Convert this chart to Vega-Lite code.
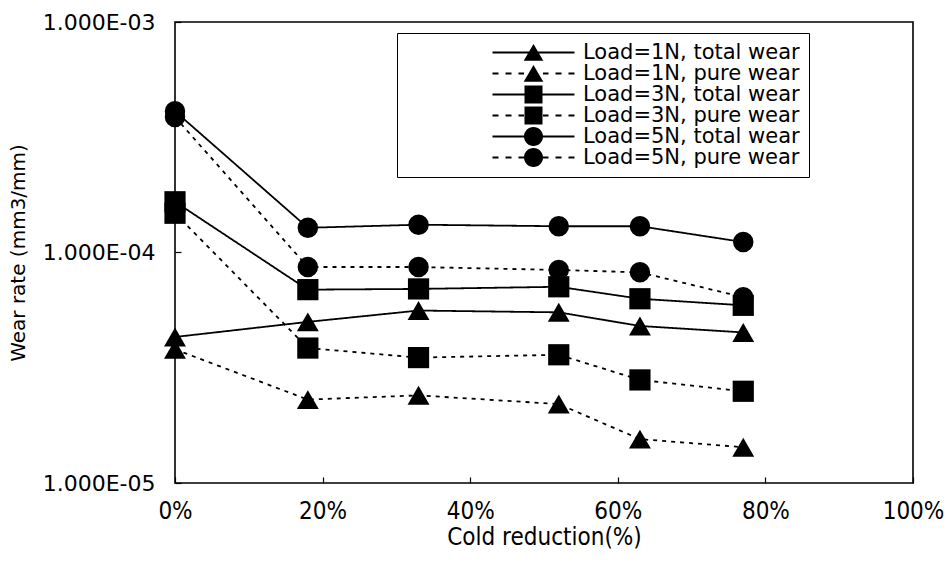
{
  "$schema": "https://vega.github.io/schema/vega-lite/v6.json",
  "width": 738,
  "height": 461,
  "autosize": {"type": "none"},
  "padding": {"left": 175, "top": 22, "right": 36, "bottom": 79},
  "background": "white",
  "config": {
    "view": {"stroke": "black", "strokeWidth": 1.6},
    "axis": {"grid": false, "domain": false, "tickColor": "black", "labelColor": "black", "titleColor": "black", "titleFontWeight": "normal"}
  },
  "data": {
    "values": [
      {"cr": 0.00, "load": "1N", "wear": "total", "series": "Load=1N, total wear", "rate": 4.3e-5},
      {"cr": 0.18, "load": "1N", "wear": "total", "series": "Load=1N, total wear", "rate": 5.0e-5},
      {"cr": 0.33, "load": "1N", "wear": "total", "series": "Load=1N, total wear", "rate": 5.6e-5},
      {"cr": 0.52, "load": "1N", "wear": "total", "series": "Load=1N, total wear", "rate": 5.5e-5},
      {"cr": 0.63, "load": "1N", "wear": "total", "series": "Load=1N, total wear", "rate": 4.8e-5},
      {"cr": 0.77, "load": "1N", "wear": "total", "series": "Load=1N, total wear", "rate": 4.5e-5},
      {"cr": 0.00, "load": "1N", "wear": "pure", "series": "Load=1N, pure wear", "rate": 3.8e-5},
      {"cr": 0.18, "load": "1N", "wear": "pure", "series": "Load=1N, pure wear", "rate": 2.3e-5},
      {"cr": 0.33, "load": "1N", "wear": "pure", "series": "Load=1N, pure wear", "rate": 2.4e-5},
      {"cr": 0.52, "load": "1N", "wear": "pure", "series": "Load=1N, pure wear", "rate": 2.2e-5},
      {"cr": 0.63, "load": "1N", "wear": "pure", "series": "Load=1N, pure wear", "rate": 1.55e-5},
      {"cr": 0.77, "load": "1N", "wear": "pure", "series": "Load=1N, pure wear", "rate": 1.43e-5},
      {"cr": 0.00, "load": "3N", "wear": "total", "series": "Load=3N, total wear", "rate": 1.66e-4},
      {"cr": 0.18, "load": "3N", "wear": "total", "series": "Load=3N, total wear", "rate": 6.9e-5},
      {"cr": 0.33, "load": "3N", "wear": "total", "series": "Load=3N, total wear", "rate": 6.95e-5},
      {"cr": 0.52, "load": "3N", "wear": "total", "series": "Load=3N, total wear", "rate": 7.1e-5},
      {"cr": 0.63, "load": "3N", "wear": "total", "series": "Load=3N, total wear", "rate": 6.3e-5},
      {"cr": 0.77, "load": "3N", "wear": "total", "series": "Load=3N, total wear", "rate": 5.9e-5},
      {"cr": 0.00, "load": "3N", "wear": "pure", "series": "Load=3N, pure wear", "rate": 1.48e-4},
      {"cr": 0.18, "load": "3N", "wear": "pure", "series": "Load=3N, pure wear", "rate": 3.85e-5},
      {"cr": 0.33, "load": "3N", "wear": "pure", "series": "Load=3N, pure wear", "rate": 3.5e-5},
      {"cr": 0.52, "load": "3N", "wear": "pure", "series": "Load=3N, pure wear", "rate": 3.6e-5},
      {"cr": 0.63, "load": "3N", "wear": "pure", "series": "Load=3N, pure wear", "rate": 2.8e-5},
      {"cr": 0.77, "load": "3N", "wear": "pure", "series": "Load=3N, pure wear", "rate": 2.5e-5},
      {"cr": 0.00, "load": "5N", "wear": "total", "series": "Load=5N, total wear", "rate": 4.1e-4},
      {"cr": 0.18, "load": "5N", "wear": "total", "series": "Load=5N, total wear", "rate": 1.28e-4},
      {"cr": 0.33, "load": "5N", "wear": "total", "series": "Load=5N, total wear", "rate": 1.32e-4},
      {"cr": 0.52, "load": "5N", "wear": "total", "series": "Load=5N, total wear", "rate": 1.30e-4},
      {"cr": 0.63, "load": "5N", "wear": "total", "series": "Load=5N, total wear", "rate": 1.30e-4},
      {"cr": 0.77, "load": "5N", "wear": "total", "series": "Load=5N, total wear", "rate": 1.11e-4},
      {"cr": 0.00, "load": "5N", "wear": "pure", "series": "Load=5N, pure wear", "rate": 3.87e-4},
      {"cr": 0.18, "load": "5N", "wear": "pure", "series": "Load=5N, pure wear", "rate": 8.65e-5},
      {"cr": 0.33, "load": "5N", "wear": "pure", "series": "Load=5N, pure wear", "rate": 8.65e-5},
      {"cr": 0.52, "load": "5N", "wear": "pure", "series": "Load=5N, pure wear", "rate": 8.4e-5},
      {"cr": 0.63, "load": "5N", "wear": "pure", "series": "Load=5N, pure wear", "rate": 8.2e-5},
      {"cr": 0.77, "load": "5N", "wear": "pure", "series": "Load=5N, pure wear", "rate": 6.4e-5}
    ]
  },
  "encoding": {
    "x": {
      "field": "cr", "type": "quantitative",
      "scale": {"domain": [0, 1], "nice": false},
      "axis": {
        "values": [0, 0.2, 0.4, 0.6, 0.8, 1],
        "format": ".0%",
        "title": "Cold reduction(%)",
        "labelFont": "Liberation Sans Narrow, DejaVu Sans Condensed, Liberation Sans",
        "labelFontSize": 24,
        "labelPadding": 22,
        "tickSize": -6,
        "tickWidth": 1.2,
        "labelFlush": false,
        "titleFont": "Liberation Sans Narrow, DejaVu Sans Condensed, Liberation Sans",
        "titleFontSize": 24,
        "titlePadding": 2
      }
    },
    "y": {
      "field": "rate", "type": "quantitative",
      "scale": {"type": "log", "domain": [0.00001, 0.001], "nice": false},
      "axis": {
        "values": [0.00001, 0.0001, 0.001],
        "labelExpr": "replace(format(datum.value, '.3e'), 'e-', 'E-0')",
        "title": "Wear rate (mm3/mm)",
        "labelFont": "DejaVu Sans",
        "labelFontSize": 22,
        "labelPadding": 26,
        "tickSize": -6,
        "tickWidth": 1.2,
        "labelFlush": false,
        "titleFont": "DejaVu Sans",
        "titleFontSize": 20,
        "titlePadding": 14
      }
    }
  },
  "resolve": {
    "scale": {"shape": "independent", "size": "independent"},
    "legend": {"shape": "independent"}
  },
  "layer": [
    {
      "mark": {"type": "line", "color": "black", "strokeWidth": 1.8},
      "encoding": {
        "strokeDash": {
          "field": "series", "type": "nominal",
          "scale": {
            "domain": ["Load=1N, total wear", "Load=1N, pure wear", "Load=3N, total wear", "Load=3N, pure wear", "Load=5N, total wear", "Load=5N, pure wear"],
            "range": [[1, 0], [4, 5], [1, 0], [4, 5], [1, 0], [4, 5]]
          },
          "legend": null
        }
      }
    },
    {
      "mark": {"type": "point", "filled": true, "color": "black", "opacity": 1, "strokeWidth": 0},
      "encoding": {
        "shape": {
          "field": "load", "type": "nominal",
          "scale": {"domain": ["1N", "3N", "5N"], "range": ["triangle-up", "square", "circle"]},
          "legend": null
        },
        "size": {
          "field": "load", "type": "nominal",
          "scale": {"domain": ["1N", "3N", "5N"], "range": [480, 420, 340]},
          "legend": null
        }
      }
    },
    {
      "description": "Key entries: each symbol is a line sample (thin filled bars) with its marker; the layer's own points stay transparent.",
      "mark": {"type": "point", "filled": true, "color": "black", "opacity": 0},
      "encoding": {
        "shape": {
          "field": "series", "type": "nominal",
          "scale": {
            "domain": ["Load=1N, total wear", "Load=1N, pure wear", "Load=3N, total wear", "Load=3N, pure wear", "Load=5N, total wear", "Load=5N, pure wear"],
            "range": [
              "M-4.1,-0.09H4.1V0.09H-4.1ZM0,-0.85L0.98,0.82L-0.98,0.82Z",
              "M-4.1,-0.09H-3.5V0.09H-4.1ZM-2.8,-0.09H-2.2V0.09H-2.8ZM-1.5,-0.09H-0.95V0.09H-1.5ZM0.95,-0.09H1.5V0.09H0.95ZM2.2,-0.09H2.8V0.09H2.2ZM3.5,-0.09H4.1V0.09H3.5ZM0,-0.85L0.98,0.82L-0.98,0.82Z",
              "M-4.1,-0.09H4.1V0.09H-4.1ZM-0.9,-0.9H0.9V0.9H-0.9Z",
              "M-4.1,-0.09H-3.5V0.09H-4.1ZM-2.8,-0.09H-2.2V0.09H-2.8ZM-1.5,-0.09H-0.95V0.09H-1.5ZM0.95,-0.09H1.5V0.09H0.95ZM2.2,-0.09H2.8V0.09H2.2ZM3.5,-0.09H4.1V0.09H3.5ZM-0.9,-0.9H0.9V0.9H-0.9Z",
              "M-4.1,-0.09H4.1V0.09H-4.1ZM-0.95,0A0.95,0.95 0 1,1 0.95,0A0.95,0.95 0 1,1 -0.95,0Z",
              "M-4.1,-0.09H-3.5V0.09H-4.1ZM-2.8,-0.09H-2.2V0.09H-2.8ZM-1.5,-0.09H-0.95V0.09H-1.5ZM0.95,-0.09H1.5V0.09H0.95ZM2.2,-0.09H2.8V0.09H2.2ZM3.5,-0.09H4.1V0.09H3.5ZM-0.95,0A0.95,0.95 0 1,1 0.95,0A0.95,0.95 0 1,1 -0.95,0Z"
            ]
          },
          "legend": {
            "title": null,
            "orient": "none",
            "legendX": 222,
            "legendY": 11,
            "padding": 9,
            "strokeColor": "black",
            "fillColor": "white",
            "symbolSize": 400,
            "symbolOpacity": 1,
            "symbolFillColor": "black",
            "symbolStrokeColor": "black",
            "symbolStrokeWidth": 0,
            "symbolOffset": 117,
            "labelOffset": 39,
            "rowPadding": -6,
            "labelFont": "DejaVu Sans",
            "labelFontSize": 21,
            "labelColor": "black",
            "labelLimit": 0
          }
        }
      }
    }
  ]
}
